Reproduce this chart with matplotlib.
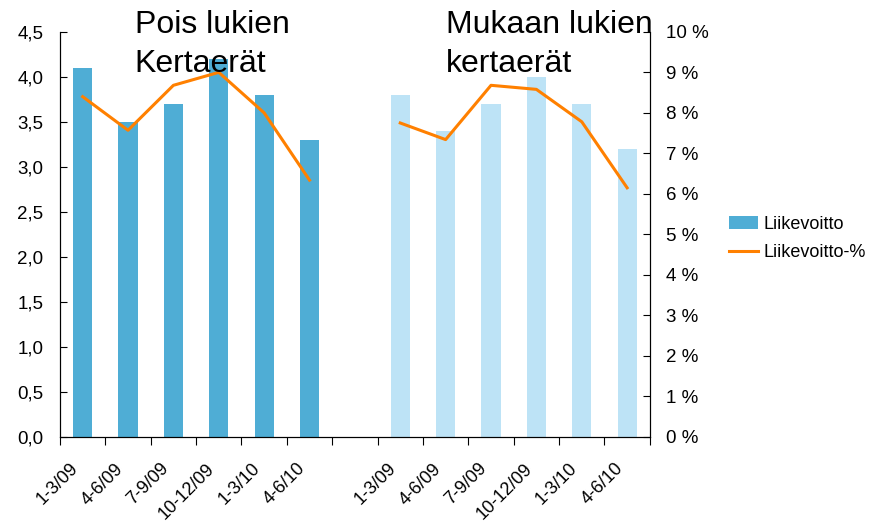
import numpy as np
import matplotlib.pyplot as plt
import matplotlib.transforms as mtrans
from matplotlib.ticker import FuncFormatter

plt.rcParams['font.family'] = ['Liberation Sans', 'DejaVu Sans']

# kvartaalit (kaksi ryhmää, välissä tyhjä sarake)
labels = ['1-3/09', '4-6/09', '7-9/09', '10-12/09', '1-3/10', '4-6/10', '',
          '1-3/09', '4-6/09', '7-9/09', '10-12/09', '1-3/10', '4-6/10']
liikevoitto_pois = [4.1, 3.5, 3.7, 4.2, 3.8, 3.3]
liikevoitto_mukaan = [3.8, 3.4, 3.7, 4.0, 3.7, 3.2]
pct_pois = [8.4, 7.57, 8.68, 9.0, 8.0, 6.34]
pct_mukaan = [7.75, 7.34, 8.68, 8.58, 7.78, 6.15]

x = np.arange(len(labels))
bars = liikevoitto_pois + [np.nan] + liikevoitto_mukaan
colors = ['#4FADD5'] * 6 + ['none'] + ['#BDE3F6'] * 6
pct = pct_pois + [np.nan] + pct_mukaan

fig = plt.figure(figsize=(8.87, 5.22), dpi=100)
ax = fig.add_axes([0.0676, 0.163, 0.665, 0.776])
ax.bar(x, bars, width=0.42, color=colors, label='Liikevoitto')
ax.set_xlim(-0.5, len(labels) - 0.5)
ax.set_ylim(0, 4.5)
ax.set_yticks(np.arange(0, 4.51, 0.5))
ax.yaxis.set_major_formatter(FuncFormatter(lambda v, p: f'{v:.1f}'.replace('.', ',')))
ax.set_xticks(np.arange(-0.5, len(labels), 1), minor=False)
ax.set_xticklabels([])
ax.set_xticks(x, minor=True)
ax.set_xticklabels(labels, minor=True, rotation=45, ha='right', va='center',
                   rotation_mode='anchor', fontsize=13)
ax.tick_params(axis='x', which='minor', length=0, pad=21)
ax.tick_params(axis='x', which='major', length=6, direction='out')
ax.tick_params(axis='y', direction='in', length=5, labelsize=13.5, pad=12)
ax.spines['top'].set_visible(False)
shift = mtrans.ScaledTranslation(-7 / 100, 0, fig.dpi_scale_trans)
for t in ax.get_xticklabels(minor=True):
    t.set_transform(t.get_transform() + shift)

ax2 = ax.twinx()
ax2.plot(x, pct, color='#FF8000', lw=2.2, label='Liikevoitto-%')
ax2.set_ylim(0, 10)
ax2.set_yticks(np.arange(0, 11, 1))
ax2.yaxis.set_major_formatter(FuncFormatter(lambda v, p: f'{v:.0f} %'))
ax2.tick_params(axis='y', direction='in', length=5, labelsize=13.5, pad=12)
ax2.spines['top'].set_visible(False)

fig.text(0.152, 0.937, 'Pois lukien', fontsize=23, va='baseline')
fig.text(0.152, 0.862, 'Kertaerät', fontsize=23, va='baseline')
fig.text(0.503, 0.937, 'Mukaan lukien', fontsize=23, va='baseline')
fig.text(0.503, 0.862, 'kertaerät', fontsize=23, va='baseline')

h1, l1 = ax.get_legend_handles_labels()
h2, l2 = ax2.get_legend_handles_labels()
fig.legend(h1 + h2, l1 + l2, loc='center left', bbox_to_anchor=(0.822, 0.543),
           frameon=False, fontsize=13, handlelength=1.6, handletextpad=0.33,
           labelspacing=0.62, borderpad=0, borderaxespad=0)

fig.savefig('out.png')
